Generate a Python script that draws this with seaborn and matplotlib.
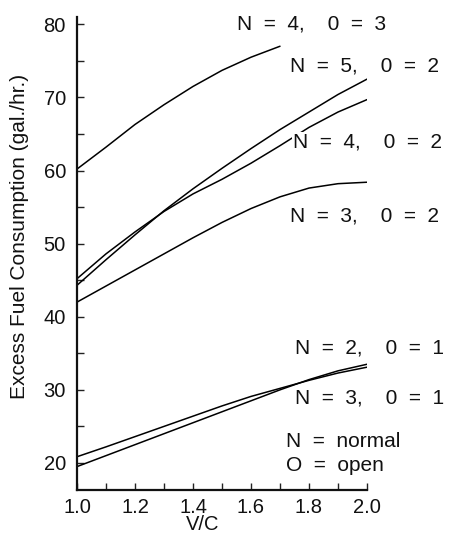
import numpy as np
import pandas as pd
import matplotlib
matplotlib.use("Agg")
import matplotlib.pyplot as plt
import seaborn as sns
from matplotlib.ticker import MultipleLocator

# ---- data ----
vc = [1.0, 1.1, 1.2, 1.3, 1.4, 1.5, 1.6, 1.7, 1.8, 1.9, 2.0]
vc_short = [1.0, 1.1, 1.2, 1.3, 1.4, 1.5, 1.6, 1.7]

n4_o3 = [60.2, 63.2, 66.3, 69.0, 71.5, 73.7, 75.5, 77.0]
n5_o2 = [44.3, 47.8, 51.2, 54.5, 57.5, 60.3, 63.0, 65.6, 68.0, 70.4, 72.5]
n4_o2 = [45.2, 48.6, 51.6, 54.4, 56.8, 58.8, 61.0, 63.4, 65.9, 68.0, 69.7]
n3_o2 = [42.0, 44.2, 46.4, 48.6, 50.8, 52.9, 54.8, 56.4, 57.6, 58.2, 58.4]
n2_o1 = [19.5, 21.0, 22.5, 24.0, 25.5, 27.0, 28.5, 30.0, 31.4, 32.6, 33.5]
n3_o1 = [20.85, 22.2, 23.6, 25.0, 26.4, 27.8, 29.1, 30.2, 31.3, 32.3, 33.1]

series_names = ["N=4,O=3", "N=5,O=2", "N=4,O=2", "N=3,O=2", "N=2,O=1", "N=3,O=1"]
series_x = [vc_short, vc, vc, vc, vc, vc]
series_y = [n4_o3, n5_o2, n4_o2, n3_o2, n2_o1, n3_o1]

labels = ["N  =  4,    0  =  3", "N  =  5,    0  =  2", "N  =  4,    0  =  2",
          "N  =  3,    0  =  2", "N  =  2,    0  =  1", "N  =  3,    0  =  1"]
legend_lines = ["N  =  normal", "O  =  open"]

x_label = "V/C"
y_label = "Excess Fuel Consumption (gal./hr.)"

rows = []
for name, xs, ys in zip(series_names, series_x, series_y):
    for x, y in zip(xs, ys):
        rows.append({"series": name, "vc": x, "fuel": y})
df = pd.DataFrame(rows)

# ---- plotting ----
sns.set_style("ticks")
plt.rcParams["font.family"] = ["Liberation Sans", "DejaVu Sans"]

W, H = 453, 534
fig = plt.figure(figsize=(W / 100, H / 100), dpi=100)
ax = fig.add_axes([77 / W, 1 - 490 / H, (367 - 77) / W, (490 - 17) / H])

sns.lineplot(data=df, x="vc", y="fuel", hue="series", units="series",
             estimator=None, palette=["black"] * len(series_names),
             linewidth=1.1, legend=False, ax=ax, zorder=2)

ax.set_xlim(1.0, 2.0)
ax.set_ylim(16.3, 81.0)
ax.xaxis.set_major_locator(MultipleLocator(0.2))
ax.xaxis.set_minor_locator(MultipleLocator(0.1))
ax.yaxis.set_major_locator(MultipleLocator(10))
ax.yaxis.set_minor_locator(MultipleLocator(5))
ax.set_yticks([20, 30, 40, 50, 60, 70, 80])
ax.xaxis.set_major_formatter(matplotlib.ticker.FormatStrFormatter("%.1f"))

for side in ["top", "right"]:
    ax.spines[side].set_visible(False)
for side in ["left", "bottom"]:
    ax.spines[side].set_linewidth(1.6)
    ax.spines[side].set_color("#111111")

ax.tick_params(axis="both", which="both", direction="in", length=5, width=1.0,
               color="#222222", labelsize=14.5, labelcolor="#111111")
ax.tick_params(axis="y", which="major", pad=8)
ax.tick_params(axis="x", which="major", pad=6)

ax.set_xlabel(x_label, fontsize=14.5, color="#111111")
ax.set_ylabel(y_label, fontsize=15, color="#111111")
ax.xaxis.set_label_coords((203 - 77) / 290, (490 - 515) / 473)
ax.yaxis.set_label_coords((29 - 77) / 290, (490 - 236) / 473)

# curve labels (pixel positions: left x, baseline y)
label_pos = [(237, 30), (290, 72), (293, 148), (290, 222), (295, 353), (295, 403)]
for txt, (px, py) in zip(labels, label_pos):
    kw = {}
    if txt == labels[2]:
        kw["bbox"] = dict(facecolor="white", edgecolor="none", pad=0.5)
    fig.text(px / W, 1 - py / H, txt, fontsize=15, ha="left", va="baseline",
             color="#111111", zorder=5, **kw)

for txt, (px, py) in zip(legend_lines, [(286, 447), (286, 471)]):
    fig.text(px / W, 1 - py / H, txt, fontsize=15, ha="left", va="baseline",
             color="#111111")

fig.savefig("out.png", dpi=100, facecolor="white")
